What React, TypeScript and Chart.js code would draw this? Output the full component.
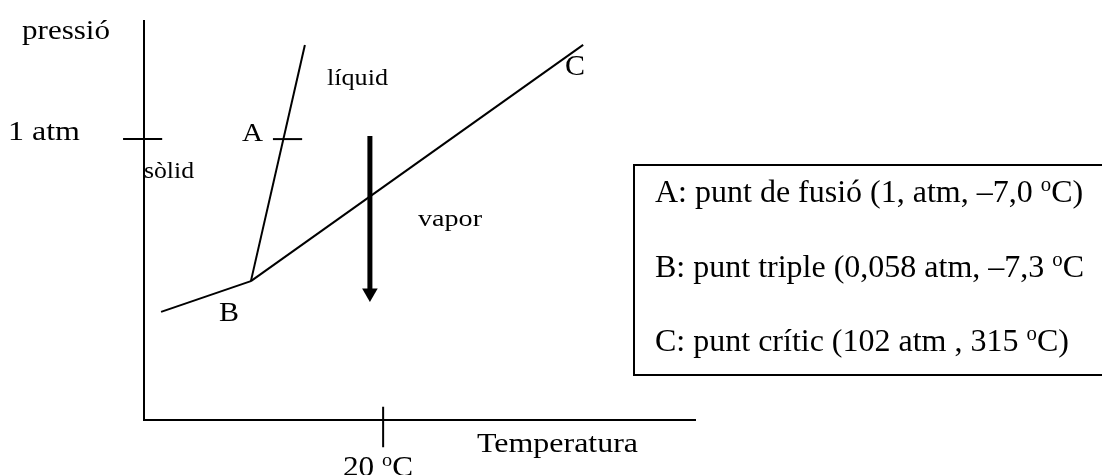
import React, { useEffect, useRef } from "react";
import { Chart, registerables } from "chart.js";
Chart.register(...registerables);

// Phase-diagram curves (temperature units 0..100, pressure units 0..100, schematic)
const sublimationCurve = [{ x: 3.1, y: 27.1 }, { x: 19.4, y: 34.8 }];
const fusionCurve = [{ x: 19.4, y: 34.8 }, { x: 29.2, y: 94.0 }];
const vaporizationCurve = [{ x: 19.4, y: 34.8 }, { x: 79.7, y: 94.0 }];
const pressureAxisTick = [{ x: -3.8, y: 70.4 }, { x: 3.3, y: 70.4 }];
const pointATick = [{ x: 23.4, y: 70.4 }, { x: 28.7, y: 70.4 }];
const tempAxisTick = [{ x: 43.4, y: 3.3 }, { x: 43.4, y: -6.8 }];
const arrowShaft = [{ x: 41.0, y: 71.2 }, { x: 41.0, y: 32.6 }];
const arrowHead = [{ x: 41.0, y: 31.8 }];

const yAxisTitle = "pressió";
const xAxisTitle = "Temperatura";
const yTickLabel = "1 atm";
const xTickLabel = ["20 ", "o", "C"];
const regionLabels = ["sòlid", "líquid", "vapor"];
const pointNames = ["A", "B", "C"];
const legendLines = [
  ["A: punt de fusió (1, atm, –7,0 ", "o", "C)"],
  ["B: punt triple (0,058 atm, –7,3 ", "o", "C"],
  ["C: punt crític (102 atm , 315 ", "o", "C)"],
];

const FONT = '"Liberation Serif", "Times New Roman", serif';

function drawRich(ctx: CanvasRenderingContext2D, parts: string[], x: number, baseline: number, size: number, width?: number) {
  ctx.save();
  const segs: { t: string; sup: boolean; w: number }[] = [];
  let total = 0;
  parts.forEach((t, i) => {
    const sup = parts.length > 1 && i === 1;
    ctx.font = `${sup ? size * 0.65 : size}px ${FONT}`;
    const w = ctx.measureText(t).width;
    segs.push({ t, sup, w });
    total += w;
  });
  const sx = width ? width / total : 1;
  ctx.translate(x, baseline);
  ctx.scale(sx, 1);
  ctx.fillStyle = "#000";
  ctx.textBaseline = "alphabetic";
  ctx.textAlign = "left";
  let cx = 0;
  segs.forEach((s) => {
    ctx.font = `${s.sup ? size * 0.65 : size}px ${FONT}`;
    ctx.fillText(s.t, cx, s.sup ? -size * 0.33 : 0);
    cx += s.w;
  });
  ctx.restore();
}

const textPlugin = {
  id: "phaseText",
  afterDraw(chart: any) {
    const ctx = chart.ctx as CanvasRenderingContext2D;
    drawRich(ctx, [yAxisTitle], 22, 39, 28, 88);
    drawRich(ctx, [yTickLabel], 8, 140, 27, 72);
    drawRich(ctx, [regionLabels[0]], 144, 178, 24, 50);
    drawRich(ctx, [regionLabels[1]], 327, 85, 24, 61);
    drawRich(ctx, [regionLabels[2]], 418, 226, 24, 64);
    drawRich(ctx, [pointNames[0]], 242, 141, 26, 21);
    drawRich(ctx, [pointNames[1]], 219, 321, 27, 20);
    drawRich(ctx, [pointNames[2]], 565, 75, 30, 20);
    drawRich(ctx, [xAxisTitle], 477, 452, 28, 161);
    drawRich(ctx, xTickLabel, 343, 476, 30, 70);
    // info box
    ctx.save();
    ctx.strokeStyle = "#000";
    ctx.lineWidth = 2;
    ctx.strokeRect(634, 165, 600, 210);
    ctx.restore();
    const baselines = [202, 277, 351];
    legendLines.forEach((l, i) => drawRich(ctx, l, 655, baselines[i], 32));
  },
};

export default function App() {
  const ref = useRef<HTMLCanvasElement>(null);
  useEffect(() => {
    document.body.style.margin = "0";
    const line = (data: any[], width = 2) => ({
      data,
      showLine: true,
      borderColor: "#000",
      borderWidth: width,
      pointRadius: 0,
      clip: false as any,
      fill: false,
    });
    const chart = new Chart(ref.current!, {
      type: "scatter",
      data: {
        datasets: [
          line(sublimationCurve),
          line(fusionCurve),
          line(vaporizationCurve),
          line(pressureAxisTick),
          line(pointATick),
          line(tempAxisTick),
          line(arrowShaft, 5),
          {
            data: arrowHead,
            showLine: false,
            pointStyle: "triangle",
            rotation: 180,
            pointRadius: 9,
            backgroundColor: "#000",
            borderColor: "#000",
            borderWidth: 0,
            clip: false as any,
          },
        ],
      },
      options: {
        animation: false,
        responsive: false,
        events: [],
        layout: { padding: { left: 136, top: 21, right: 407, bottom: 47 } },
        plugins: { legend: { display: false }, tooltip: { enabled: false } },
        scales: {
          x: {
            type: "linear",
            min: 0,
            max: 100,
            grid: { display: false },
            ticks: { display: false },
            border: { display: true, color: "#000", width: 2 },
          },
          y: {
            type: "linear",
            min: 0,
            max: 100,
            grid: { display: false },
            ticks: { display: false },
            border: { display: true, color: "#000", width: 2 },
          },
        },
      },
      plugins: [textPlugin],
    });
    return () => chart.destroy();
  }, []);
  return (
    <div style={{ width: 1102, height: 475, background: "#fff" }}>
      <canvas ref={ref} width={1102} height={475} style={{ width: 1102, height: 475, display: "block" }} />
    </div>
  );
}
